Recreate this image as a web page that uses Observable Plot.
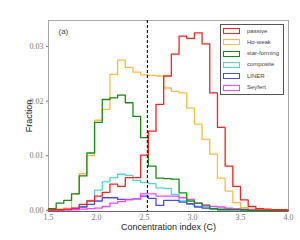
<!DOCTYPE html>
<html><head><meta charset="utf-8">
<script src="https://cdn.jsdelivr.net/npm/d3@7"></script>
<script src="https://cdn.jsdelivr.net/npm/@observablehq/plot@0.6"></script>
<style>
body{margin:0;background:#fff;}
#wrap{position:relative;width:300px;height:240px;}
#legend{position:absolute;left:220px;top:24px;width:64px;height:71px;border:1px solid #555;background:#fff;box-sizing:border-box;font:6px "Liberation Sans",Arial,sans-serif;color:#444;}
.row{position:absolute;left:2px;height:7px;}
.sw{position:absolute;left:0;top:0;width:17px;height:6px;box-sizing:border-box;border:1.4px solid;}
.lb{position:absolute;left:24px;top:-0.5px;white-space:nowrap;line-height:7px;}
</style></head>
<body><div id="wrap"><div id="chart"></div><div id="legend"></div></div>
<script>
// bin edges of the histograms (concentration index C)
const edges = [1.50,1.58,1.66,1.74,1.82,1.90,1.98,2.06,2.14,2.22,2.30,2.38,2.46,2.54,2.62,2.70,2.78,2.86,2.94,3.02,3.10,3.18,3.26,3.34,3.42,3.50,3.58,3.66,3.74,3.82,3.90,3.98,4.00];
const names = ["passive","H\u03b1-weak","star-forming","composite","LINER","Seyfert"];
const colors = ["#ff2020","#ffbb44","#168c16","#4fd6d6","#4a4aff","#ff44ff"];
const passive  = [0.0001,0.0001,0.0002,0.0004,0.0011,0.0017,0.0026,0.0033,0.0048,0.0044,0.0060,0.0060,0.0101,0.0145,0.0194,0.0246,0.0286,0.0319,0.0315,0.0325,0.0305,0.0215,0.0152,0.0081,0.0044,0.0019,0.0007,0.0003,0.0002,0.0001,0.0001,0.0000];
const haWeak   = [0.0001,0.0002,0.0004,0.0030,0.0067,0.0100,0.0165,0.0185,0.0249,0.0275,0.0262,0.0253,0.0248,0.0247,0.0246,0.0224,0.0218,0.0215,0.0187,0.0158,0.0130,0.0103,0.0059,0.0035,0.0014,0.0005,0.0002,0.0001,0.0001,0.0001,0.0000,0.0000];
const starForm = [0.0003,0.0013,0.0018,0.0030,0.0063,0.0105,0.0161,0.0203,0.0206,0.0211,0.0197,0.0172,0.0133,0.0081,0.0059,0.0058,0.0057,0.0032,0.0017,0.0013,0.0008,0.0003,0.0001,0.0001,0.0001,0.0001,0.0000,0.0000,0.0000,0.0000,0.0000,0.0000];
const composite= [0.0000,0.0001,0.0002,0.0004,0.0007,0.0018,0.0037,0.0052,0.0060,0.0066,0.0064,0.0055,0.0051,0.0049,0.0041,0.0040,0.0029,0.0017,0.0011,0.0007,0.0004,0.0002,0.0001,0.0001,0.0001,0.0000,0.0000,0.0000,0.0000,0.0000,0.0000,0.0000];
const liner    = [0.0001,0.0001,0.0001,0.0003,0.0006,0.0011,0.0017,0.0023,0.0023,0.0020,0.0020,0.0021,0.0026,0.0022,0.0009,0.0018,0.0018,0.0015,0.0012,0.0006,0.0004,0.0003,0.0002,0.0003,0.0002,0.0001,0.0001,0.0000,0.0000,0.0000,0.0000,0.0000];
const seyfert  = [0.0000,0.0000,0.0001,0.0001,0.0002,0.0003,0.0004,0.0007,0.0013,0.0016,0.0019,0.0021,0.0030,0.0030,0.0026,0.0026,0.0026,0.0023,0.0020,0.0013,0.0010,0.0007,0.0006,0.0004,0.0003,0.0002,0.0001,0.0000,0.0000,0.0000,0.0000,0.0000];
const xTicks = [1.5,2.0,2.5,3.0,3.5,4.0];
const yTicks = [0.00,0.01,0.02,0.03];
const divider = 2.53;

const seriesVals = [passive,haWeak,starForm,composite,liner,seyfert];
const drawOrder = [1,3,4,5,2,0];
const rows = [];
drawOrder.forEach(si => {
  const vals = seriesVals[si];
  vals.forEach((v,i)=>rows.push({s:names[si], x:edges[i], y:v}));
  rows.push({s:names[si], x:edges[edges.length-1], y:vals[vals.length-1]});
});

const chart = Plot.plot({
  width:300, height:240,
  marginLeft:48, marginRight:12, marginTop:20, marginBottom:29,
  x:{domain:[1.5,4.0]},
  y:{domain:[-0.00022,0.03477]},
  color:{domain:names, range:colors},
  style:{fontFamily:"Liberation Serif, serif", fontSize:"8px", color:"#777", background:"#fff"},
  marks:[
    Plot.frame({stroke:"#aaa"}),
    Plot.ruleY([-0.00022],{stroke:"#666"}),
    Plot.axisX(xTicks,{tickSize:0, tickPadding:3, tickFormat:d=>d.toFixed(1),
      label:"Concentration index (C)", labelAnchor:"center", labelArrow:"none", labelOffset:18}),
    Plot.axisY(yTicks,{tickSize:2, tickPadding:3, tickFormat:d=>d.toFixed(2),
      label:"Fraction", labelAnchor:"center", labelArrow:"none", labelOffset:23}),
    Plot.line(rows,{x:"x", y:"y", z:"s", stroke:"s", curve:"step-after", strokeWidth:1.3}),
    Plot.ruleX([divider],{stroke:"#111", strokeDasharray:"3,2", strokeWidth:1.1}),
    Plot.text(["(a)"],{frameAnchor:"top-left", dx:10, dy:8, fontFamily:"Liberation Sans, sans-serif", fontSize:8, fill:"#444"})
  ]
});
document.getElementById("chart").appendChild(chart);
chart.querySelectorAll("g[aria-label='x-axis label'] text, g[aria-label='y-axis label'] text").forEach(t=>{
  t.setAttribute("font-family","Liberation Sans, Arial, sans-serif");
  t.setAttribute("font-size","9");
  t.setAttribute("fill","#222");
});

const leg = document.getElementById("legend");
names.forEach((n,i)=>{
  const r = document.createElement("div");
  r.className="row"; r.style.top=(3+i*11.3)+"px";
  const sw=document.createElement("div"); sw.className="sw"; sw.style.borderColor=colors[i];
  const lb=document.createElement("div"); lb.className="lb"; lb.textContent=n;
  r.appendChild(sw); r.appendChild(lb); leg.appendChild(r);
});
</script></body></html>
